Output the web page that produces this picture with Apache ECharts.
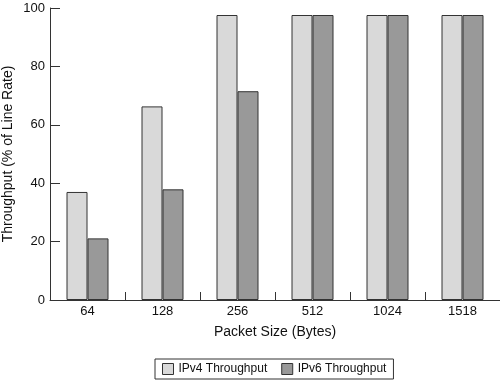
<!DOCTYPE html>
<html><head><meta charset="utf-8">
<script src="https://cdn.jsdelivr.net/npm/echarts@6/dist/echarts.min.js"></script>
<style>html,body{margin:0;padding:0;background:#fff}#c{width:500px;height:380px}</style>
</head><body><div id="c"></div>
<script>
const categories = ['64', '128', '256', '512', '1024', '1518'];
const ipv4 = [37, 66.3, 97.6, 97.6, 97.6, 97.6];
const ipv6 = [21.1, 37.9, 71.5, 97.6, 97.6, 97.6];
const yTicks = [0, 20, 40, 60, 80, 100];

const font = 'Liberation Sans, Arial, sans-serif';
const chart = echarts.init(document.getElementById('c'), null, {renderer: 'canvas'});
chart.setOption({
  animation: false,
  backgroundColor: '#fff',
  grid: {left: 50, right: 0, top: 8, bottom: 80, containLabel: false, outerBoundsMode: 'none'},
  legend: {
    left: 155, top: 359,
    data: ['IPv4 Throughput', 'IPv6 Throughput'],
    icon: 'rect', itemWidth: 11, itemHeight: 11, itemGap: 14,
    padding: [4, 7, 4, 7],
    borderColor: '#333', borderWidth: 1, borderRadius: 0,
    textStyle: {color: '#111', fontSize: 12, fontFamily: font},
    itemStyle: {borderColor: '#333', borderWidth: 1}
  },
  xAxis: {
    type: 'category', data: categories,
    name: 'Packet Size (Bytes)', nameLocation: 'middle', nameGap: 25, nameMoveOverlap: false,
    nameTextStyle: {color: '#111', fontSize: 14, fontFamily: font},
    axisLine: {lineStyle: {color: '#333', width: 1}},
    axisTick: {show: true, inside: true, length: 8, lineStyle: {color: '#333'}},
    axisLabel: {color: '#111', fontSize: 13, fontFamily: font, margin: 5},
    splitLine: {show: false}
  },
  yAxis: {
    type: 'value', min: yTicks[0], max: yTicks[yTicks.length - 1], interval: 20,
    name: 'Throughput (% of Line Rate)', nameLocation: 'middle', nameGap: 35, nameMoveOverlap: false,
    nameTextStyle: {color: '#111', fontSize: 14, fontFamily: font},
    axisLine: {show: true, lineStyle: {color: '#333', width: 1}},
    axisTick: {show: true, inside: true, length: 10, lineStyle: {color: '#333'}},
    axisLabel: {color: '#111', fontSize: 13, fontFamily: font, margin: 5},
    splitLine: {show: false}
  },
  series: [
    {name: 'IPv4 Throughput', type: 'bar', data: ipv4, barWidth: 21, barGap: '0%',
     itemStyle: {color: '#d9d9d9', borderColor: '#333', borderWidth: 1}},
    {name: 'IPv6 Throughput', type: 'bar', data: ipv6, barWidth: 21, barGap: '0%',
     itemStyle: {color: '#999999', borderColor: '#333', borderWidth: 1}}
  ]
});
</script></body></html>
